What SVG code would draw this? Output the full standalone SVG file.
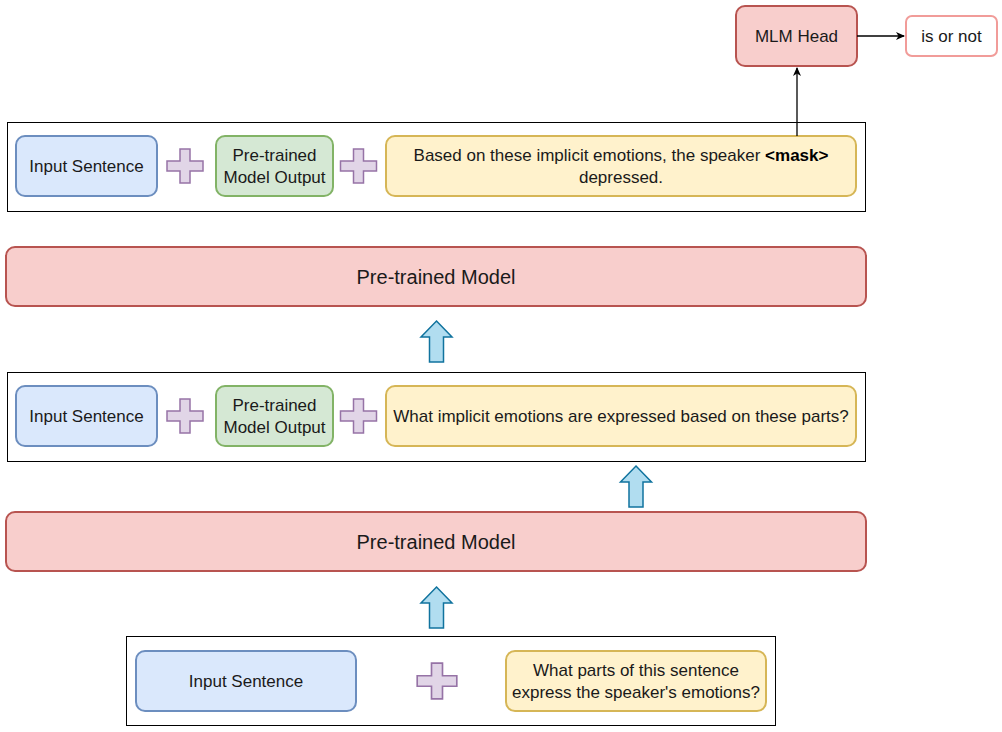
<svg xmlns="http://www.w3.org/2000/svg" width="1002" height="732" viewBox="0 0 1002 732">
<defs>
<marker id="ah" markerWidth="10" markerHeight="10" refX="8" refY="5" orient="auto" markerUnits="userSpaceOnUse">
<path d="M0,1 L9,5 L0,9 L2.5,5 Z" fill="#000"/>
</marker>
<path id="plus" d="M-5,-17 H5 V-5 H18 V5 H5 V17 H-5 V5 H-18 V-5 H-5 Z"/>
<path id="uparrow" d="M0,0 L15.5,16 H7 V41 H-7 V16 H-15.5 Z"/>
</defs>
<style>
text{font-family:"Liberation Sans",Arial,sans-serif;font-size:17px;fill:#1a1a1a;text-anchor:middle;dominant-baseline:central}
.big{font-size:20px}
.cont{fill:#fff;stroke:#000;stroke-width:1}
.blue{fill:#dae8fc;stroke:#6c8ebf;stroke-width:2}
.green{fill:#d5e8d4;stroke:#82b366;stroke-width:2}
.yellow{fill:#fff2cc;stroke:#d6b656;stroke-width:2}
.red{fill:#f8cecc;stroke:#b85450;stroke-width:2}
.pl{fill:#e1d5e7;stroke:#9673a6;stroke-width:1.5}
.ua{fill:#b1ddf0;stroke:#10739e;stroke-width:1.5}
.out{fill:#fff;stroke:#f19c99;stroke-width:2}
.edge{fill:none;stroke:#000;stroke-width:1.3}
</style>

<g id="row1">
<rect class="cont" x="7.5" y="122.5" width="858" height="89"/>
<g id="r1-input"><rect class="blue" x="16" y="136" width="141" height="60" rx="9"/><text x="86.5" y="166">Input Sentence</text></g>
<use href="#plus" class="pl" x="185" y="166"/>
<g id="r1-output"><rect class="green" x="216" y="136" width="117" height="60" rx="9"/><text x="274.5" y="155">Pre-trained</text><text x="274.5" y="177">Model Output</text></g>
<use href="#plus" class="pl" x="358.5" y="166"/>
<g id="r1-prompt"><rect class="yellow" x="386" y="136" width="470" height="60" rx="9"/><text x="621" y="155">Based on these implicit emotions, the speaker <tspan font-weight="bold" fill="#000">&lt;mask&gt;</tspan></text><text x="621" y="177">depressed.</text></g>
</g>

<g id="mlm"><rect class="red" x="736" y="6" width="121" height="60" rx="9"/><text x="796.5" y="36">MLM Head</text></g>
<g id="isornot"><rect class="out" x="906" y="16" width="91" height="40" rx="6"/><text x="951.5" y="36">is or not</text></g>

<g id="ptm1"><rect class="red" x="6" y="247" width="860" height="59" rx="9"/><text class="big" x="436" y="277">Pre-trained Model</text></g>

<g id="arrow1"><use href="#uparrow" class="ua" x="436.5" y="321"/></g>

<g id="row2">
<rect class="cont" x="7.5" y="372.5" width="858" height="89"/>
<g id="r2-input"><rect class="blue" x="16" y="386" width="141" height="60" rx="9"/><text x="86.5" y="416">Input Sentence</text></g>
<use href="#plus" class="pl" x="185" y="416"/>
<g id="r2-output"><rect class="green" x="216" y="386" width="117" height="60" rx="9"/><text x="274.5" y="405">Pre-trained</text><text x="274.5" y="427">Model Output</text></g>
<use href="#plus" class="pl" x="358.5" y="416"/>
<g id="r2-prompt"><rect class="yellow" x="386" y="386" width="470" height="60" rx="9"/><text x="621" y="416">What implicit emotions are expressed based on these parts?</text></g>
</g>

<g id="arrow2"><use href="#uparrow" class="ua" x="636" y="466"/></g>

<g id="ptm2"><rect class="red" x="6" y="512" width="860" height="59" rx="9"/><text class="big" x="436" y="542">Pre-trained Model</text></g>

<g id="arrow3"><use href="#uparrow" class="ua" x="436.5" y="587"/></g>

<g id="row3">
<rect class="cont" x="126.5" y="636.5" width="649" height="89"/>
<g id="r3-input"><rect class="blue" x="136" y="651" width="220" height="60" rx="9"/><text x="246" y="681">Input Sentence</text></g>
<use href="#plus" class="pl" x="437" y="681" transform="translate(437 681) scale(1.1 1.05) translate(-437 -681)"/>
<g id="r3-prompt"><rect class="yellow" x="506" y="651" width="260" height="60" rx="9"/><text x="636" y="670">What parts of this sentence</text><text x="636" y="692">express the speaker's emotions?</text></g>
</g>

<g id="connectors">
<path class="edge" d="M797,136 V68" marker-end="url(#ah)"/>
<path class="edge" d="M857,36 H904" marker-end="url(#ah)"/>
</g>
</svg>
